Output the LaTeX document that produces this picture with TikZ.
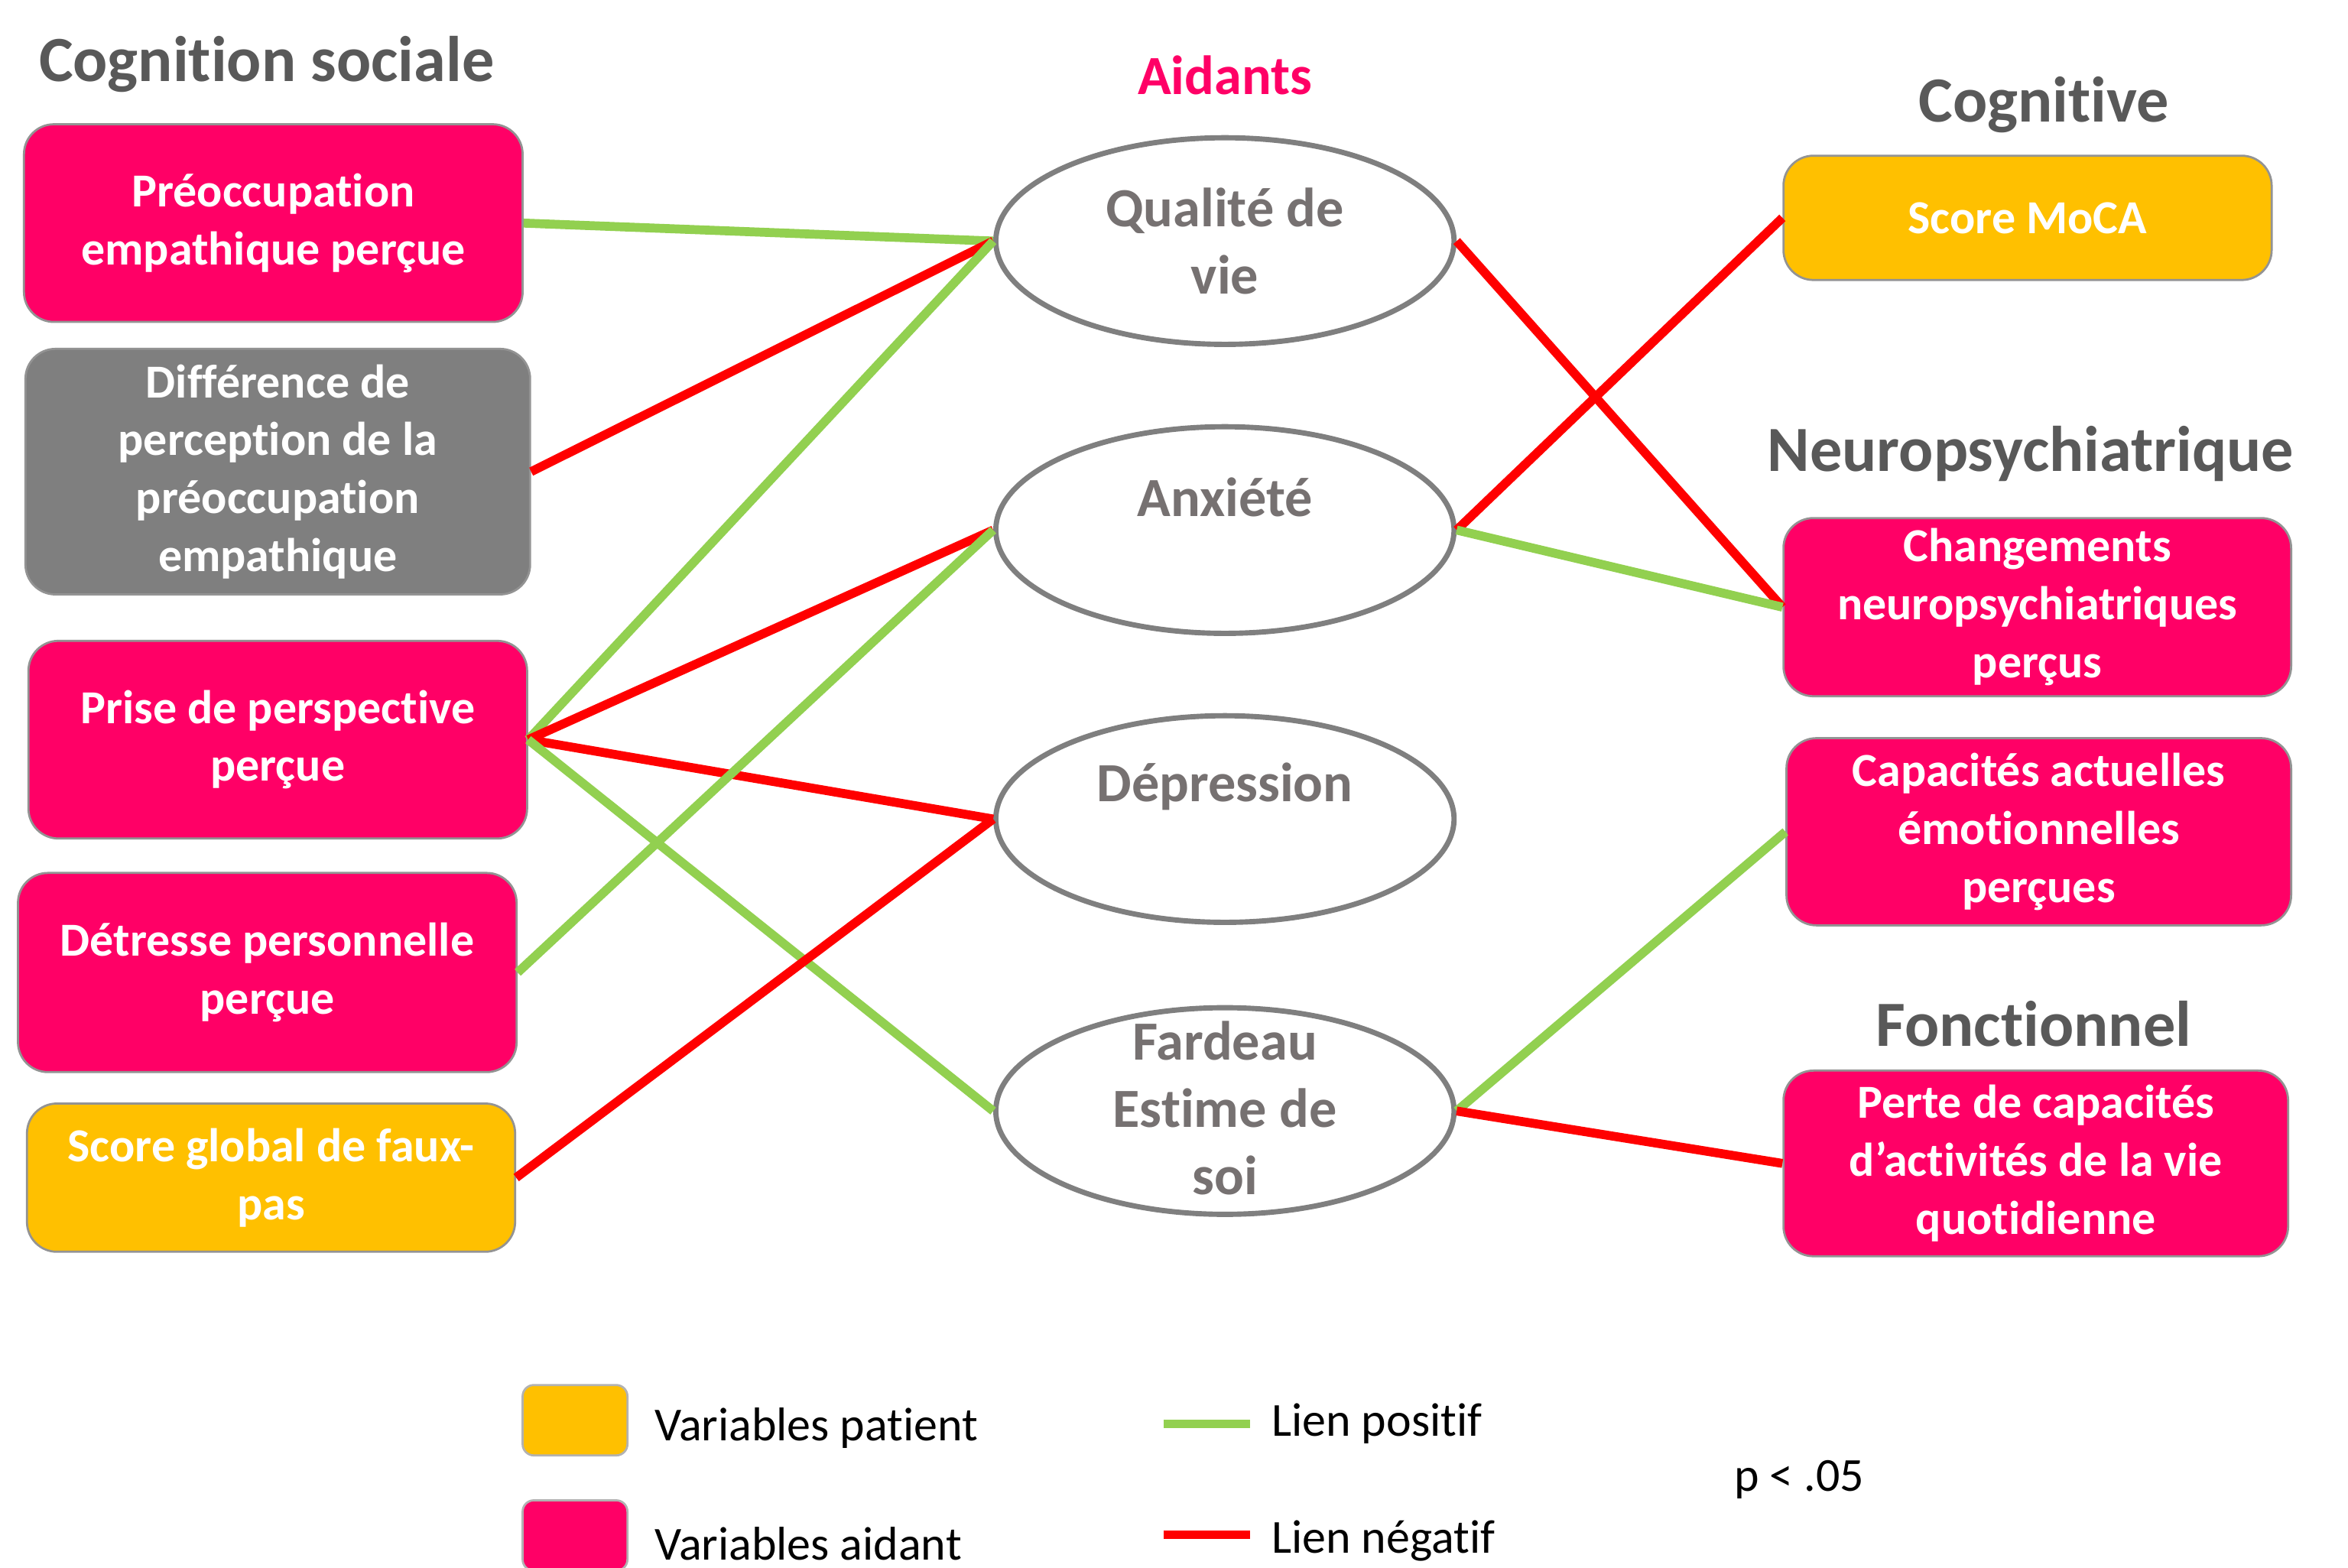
\documentclass[tikz,border=0pt]{standalone}
\usepackage{fontspec}
\setmainfont{Carlito}[Ligatures={NoCommon,NoContextual},Contextuals={NoAlternate}]
\usepackage{tikz}
\usetikzlibrary{shapes.geometric}

\definecolor{aidant}{HTML}{FF0066}
\definecolor{patient}{HTML}{FFC000}
\definecolor{diffgris}{HTML}{7F7F7F}
\definecolor{lienpos}{HTML}{92D050}
\definecolor{lienneg}{HTML}{FF0000}
\definecolor{titregris}{HTML}{595959}
\definecolor{ellgris}{HTML}{767171}

\tikzset{
  varbox/.style={draw=gray!85, line width=0.8pt, rounded corners=0.4cm, inner sep=0pt,
    align=center, text=white, font=\fontsize{18}{22}\selectfont\bfseries},
  aidantbox/.style={varbox, fill=aidant},
  patientbox/.style={varbox, fill=patient},
  diffbox/.style={varbox, fill=diffgris},
  latent/.style={draw=diffgris, line width=2pt, ellipse, fill=white, inner sep=0pt,
    minimum width=6.12cm, minimum height=2.76cm},
  latenttext/.style={align=center, text=ellgris, font=\fontsize{21}{25.5}\selectfont\bfseries},
  titre/.style={text=titregris, font=\fontsize{24.5}{29}\selectfont\bfseries},
  legende/.style={anchor=west, font=\fontsize{18}{22}\selectfont},
  lienplus/.style={draw=lienpos, line width=3.4pt},
  lienmoins/.style={draw=lienneg, line width=3.4pt}
}

\begin{document}
\begin{tikzpicture}
  \useasboundingbox (0,0) rectangle (31.36,-20.94);

  % titres
  \node [titre] (cogsoc) at (3.56,-0.86) {Cognition sociale};
  \node [titre, text=aidant, font=\fontsize{21}{25}\selectfont\bfseries] (aidants) at (16.36,-1.00) {Aidants};
  \node [titre] (cognitive) at (27.30,-1.40) {Cognitive};
  \node [titre] (neuropsy) at (27.12,-6.06) {Neuropsychiatrique};
  \node [titre] (fonction) at (27.16,-13.68) {Fonctionnel};

  % variables de gauche
  \node [aidantbox, minimum width=6.66cm, minimum height=2.64cm] (preoc) at (3.65,-2.98) {Préoccupation\\empathique perçue};
  \node [diffbox, minimum width=6.74cm, minimum height=3.28cm] (diff) at (3.71,-6.30) {Différence de\\perception de la\\préoccupation\\empathique};
  \node [aidantbox, minimum width=6.66cm, minimum height=2.64cm] (prise) at (3.71,-9.88) {Prise de perspective\\perçue};
  \node [aidantbox, minimum width=6.66cm, minimum height=2.66cm] (detresse) at (3.57,-12.99) {Détresse personnelle\\perçue};
  \node [patientbox, minimum width=6.52cm, minimum height=1.98cm] (fauxpas) at (3.62,-15.73) {Score global de faux-\\pas};

  % variables aidants
  \node [latent] (qdv) at (16.36,-3.22) {};
  \node [latent] (anx) at (16.36,-7.08) {};
  \node [latent] (dep) at (16.36,-10.94) {};
  \node [latent] (fard) at (16.36,-14.84) {};
  \node [latenttext] (qdvtxt) at (qdv) {Qualité de\\vie};
  \node [latenttext, yshift=0.44cm] (anxtxt) at (anx) {Anxiété};
  \node [latenttext, yshift=0.43cm] (deptxt) at (dep) {Dépression};
  \node [latenttext, yshift=0.04cm] (fardtxt) at (fard) {Fardeau\\Estime de\\soi};

  % variables de droite
  \node [patientbox, minimum width=6.52cm, minimum height=1.66cm] (moca) at (27.08,-2.91) {Score MoCA};
  \node [aidantbox, minimum width=6.78cm, minimum height=2.38cm] (chgt) at (27.21,-8.11) {Changements\\neuropsychiatriques\\perçus};
  \node [aidantbox, minimum width=6.74cm, minimum height=2.50cm] (capa) at (27.23,-11.11) {Capacités actuelles\\émotionnelles\\perçues};
  \node [aidantbox, minimum width=6.74cm, minimum height=2.48cm] (perte) at (27.19,-15.54) {Perte de capacités\\d’activités de la vie\\quotidienne};

  % liens
  \draw [lienplus] (preoc.east) -- (qdv.west);
  \draw [lienmoins] (diff.east) -- (qdv.west);
  \draw [lienplus] (prise.east) -- (qdv.west);
  \draw [lienmoins] (prise.east) -- (anx.west);
  \draw [lienmoins] (prise.east) -- (dep.west);
  \draw [lienplus] (prise.east) -- (fard.west);
  \draw [lienplus] (detresse.east) -- (anx.west);
  \draw [lienmoins] (fauxpas.east) -- (dep.west);
  \draw [lienmoins] (qdv.east) -- (chgt.west);
  \draw [lienmoins] (anx.east) -- (moca.west);
  \draw [lienplus] (anx.east) -- (chgt.west);
  \draw [lienplus] (fard.east) -- (capa.west);
  \draw [lienmoins] (fard.east) -- (perte.west);

  % legende
  \node [draw=gray!60, line width=0.8pt, fill=patient, rounded corners=0.15cm, minimum width=1.40cm, minimum height=0.94cm] (legpat) at (7.68,-18.97) {};
  \node [draw=gray!60, line width=0.8pt, fill=aidant, rounded corners=0.15cm, minimum width=1.40cm, minimum height=0.94cm] (legaid) at (7.68,-20.51) {};
  \node [legende] (txtpat) at (8.62,-19.08) {Variables patient};
  \node [legende] (txtaid) at (8.62,-20.62) {Variables aidant};
  \coordinate (posa) at (15.54,-19.02);
  \coordinate (posb) at (16.70,-19.02);
  \coordinate (nega) at (15.54,-20.50);
  \coordinate (negb) at (16.70,-20.50);
  \draw [lienplus] (posa) -- (posb);
  \draw [lienmoins] (nega) -- (negb);
  \node [legende] (txtpos) at (16.86,-19.02) {Lien positif};
  \node [legende] (txtneg) at (16.86,-20.58) {Lien négatif};
  \node [legende] (seuil) at (23.04,-19.76) {p < .05};
\end{tikzpicture}
\end{document}
